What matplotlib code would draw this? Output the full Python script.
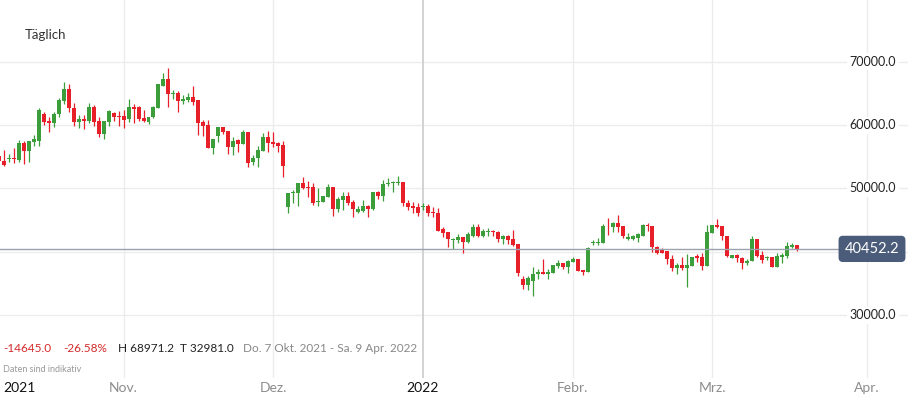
import matplotlib
matplotlib.use("Agg")
import matplotlib.pyplot as plt
import numpy as np

plt.rcParams['font.family'] = ['Lato', 'DejaVu Sans']

# daily candles, Oct 2021 - Mar 2022
opens = [55097.2, 54350, 54710, 54870, 54510, 57190, 55980, 57400, 57560, 61780,
         60670, 60400, 61730, 63880, 65730, 62680, 60560, 60990, 60670, 62840,
         60670, 58620, 60560, 61890, 61460, 61460, 60940, 62840, 62840, 61100,
         60560, 61260, 62680, 66250, 67310, 64890, 65150, 63880, 63990, 64510,
         63990, 60560, 60040, 56450, 58300, 59770, 59090, 56610, 57670, 56990,
         58980, 54240, 54780, 55980, 58190, 57400, 57150, 56880, 47120, 49240,
         49240, 50920, 50290, 50190, 47820, 47910, 48700, 50290, 46760, 48180,
         48860, 47910, 46240, 46490, 47230, 46710, 49400, 48860, 50660, 50820,
         50920, 51080, 47760, 47230, 47030, 47030, 47230, 46330, 46170, 43550,
         43170, 41860, 41860, 42290, 41490, 42540, 43960, 42540, 43120, 43330,
         43170, 42020, 42490, 42020, 41230, 35650, 34740, 35420, 36440, 36850,
         36440, 36590, 37750, 38170, 37640, 38430, 38850, 37120, 36850, 41340,
         41430, 41430, 44120, 43960, 44590, 44070, 41970, 41970, 42220, 42490,
         44230, 44070, 40700, 40280, 40120, 38850, 37480, 37910, 37380, 37800,
         39330, 39120, 37750, 43010, 44230, 44070, 42490, 38960, 39490, 38960,
         38170, 38540, 41970, 39490, 38960, 39120, 37640, 39220, 39330, 40800,
         41070]
highs = [56090, 56090, 55450, 56400, 57670, 57560, 57510, 58460, 62780, 62050,
         61350, 62100, 64260, 66790, 66520, 63470, 61620, 61620, 63570, 63200,
         61350, 60670, 62410, 62140, 62300, 62410, 64150, 63360, 63040, 62410,
         61350, 63040, 66520, 68310, 68971.2, 65570, 65420, 64780, 65150, 66200,
         63990, 60830, 60830, 57830, 59770, 59770, 59090, 58100, 57830, 59250,
         58980, 55300, 56720, 58820, 59140, 58980, 57400, 57560, 49340, 49760,
         50920, 51870, 51190, 50820, 50030, 48860, 50710, 50290, 48700, 49490,
         49400, 48180, 47230, 48180, 47390, 49400, 49600, 51340, 51610, 51230,
         51980, 51080, 48180, 47910, 47760, 47760, 47550, 47080, 46870, 43870,
         43170, 42250, 42760, 42290, 43080, 44340, 44340, 43550, 43800, 43440,
         43330, 42650, 42650, 43440, 41230, 36170, 36170, 37540, 37270, 38850,
         37270, 37910, 38700, 38270, 38700, 39220, 38850, 37120, 40750, 41860,
         42130, 44390, 45290, 44750, 45810, 44070, 42920, 42650, 42920, 44390,
         44590, 44070, 40910, 40590, 40120, 39490, 38270, 39120, 39650, 39220,
         39650, 39760, 44230, 44230, 45180, 44070, 42490, 39490, 39650, 39120,
         38810, 42490, 41970, 40170, 39380, 39220, 39760, 39850, 41590, 41430,
         41070]
lows = [54030, 53560, 54190, 54030, 54190, 53870, 54190, 56720, 56720, 60040,
        58980, 59770, 61350, 63360, 62050, 59930, 59610, 59410, 60310, 59930,
        58100, 57780, 59930, 60720, 59930, 59520, 60560, 60310, 60670, 60560,
        60150, 61100, 62680, 66250, 62840, 64100, 62140, 63310, 63680, 63200,
        58460, 58350, 56450, 55450, 57400, 58620, 55450, 55300, 55820, 56990,
        53450, 53720, 53450, 55980, 55820, 56510, 55820, 51770, 46170, 47760,
        47230, 49920, 48700, 47390, 47230, 47910, 48700, 45700, 46330, 46600,
        47390, 45450, 46130, 46330, 45540, 46600, 48340, 48020, 50400, 49490,
        50550, 47230, 46600, 46080, 45650, 46600, 45650, 45540, 43330, 42380,
        40700, 40480, 41340, 39760, 41340, 42380, 42380, 42380, 42540, 42540,
        41590, 41230, 41180, 40910, 36170, 34060, 33950, 32981.0, 35650, 36440,
        35650, 36590, 37380, 37270, 36690, 38330, 36880, 36320, 36850, 41070,
        41070, 41430, 42650, 43170, 43170, 42130, 41860, 41860, 41590, 42490,
        43330, 40010, 39600, 39760, 38060, 36880, 36480, 37120, 34380, 37800,
        38430, 37120, 37750, 42920, 43800, 41860, 39220, 38960, 38430, 37230,
        37910, 38540, 39120, 38270, 38700, 37640, 37640, 38270, 38960, 40550,
        40170]
closes = [54350, 53760, 54820, 54660, 57190, 55980, 57510, 57830, 62410, 60560,
          60400, 61780, 63990, 65730, 62680, 60560, 60940, 60720, 62840, 60560,
          58620, 60670, 62300, 61350, 61300, 60830, 62840, 62620, 60940, 60670,
          61350, 62840, 66520, 67310, 64890, 65150, 63880, 64200, 64510, 63720,
          60400, 59930, 56450, 57830, 59770, 58980, 56610, 57560, 56990, 58980,
          53980, 54870, 56090, 58190, 57240, 57040, 56720, 53480, 49340, 49490,
          50920, 50130, 50030, 47760, 48070, 48860, 50290, 46760, 48340, 48860,
          47760, 46760, 46760, 47230, 46710, 49400, 48860, 50710, 50920, 51080,
          51080, 47660, 47120, 46970, 46170, 47230, 46170, 46080, 43330, 43040,
          41940, 42020, 42290, 41590, 42760, 43960, 42540, 43330, 43330, 43170,
          42020, 42540, 41860, 41070, 36590, 34740, 35800, 36480, 36850, 36440,
          36850, 37910, 38270, 37640, 38590, 38850, 37000, 36850, 40670, 41590,
          41590, 44070, 44020, 44590, 43960, 42490, 42290, 42490, 42760, 44230,
          44070, 40700, 39850, 39760, 38810, 37480, 37910, 37380, 37910, 39120,
          38960, 37750, 43080, 44230, 43960, 42490, 39330, 39490, 38960, 38170,
          38590, 41970, 39330, 38700, 39120, 37640, 39330, 39490, 40910, 41070,
          40452.2]

price_ticks = [30000, 40000, 50000, 60000, 70000]
month_labels = ['Nov.', 'Dez.', '2022', 'Febr.', 'Mrz.', 'Apr.']
month_start = [25, 55, 85, 115, 143, 174]   # candle index of the 1st of each month
period_text = 'Do. 7 Okt. 2021 - Sa. 9 Apr. 2022'

GREEN = '#3b9e3b'
RED = '#e61f28'

o = np.array(opens)
h = np.array(highs)
l = np.array(lows)
c = np.array(closes)
idx = np.arange(len(o))
up = c >= o
colors = np.where(up, GREEN, RED)

fig = plt.figure(figsize=(9.08, 3.98), dpi=100)
ax = fig.add_axes([0, 20 / 398, 1, 378 / 398])
ax.set_xlim(0.24, 0.24 + 908 / 4.99)
ax.set_ylim(20040, 79800)
ax.axis('off')

# grid
for p in price_ticks:
    ax.axhline(p, color='#ececec', lw=1, zorder=0)
for m, lab in zip(month_start, month_labels):
    if lab.isdigit():
        ax.axvline(m, color='#d2d2d2', lw=1.4, zorder=0)
    else:
        ax.axvline(m, color='#ececec', lw=1, zorder=0)

# candles
ax.vlines(idx, l, h, colors=colors, lw=0.9, zorder=2)
body = np.maximum(np.abs(c - o), 110)
ax.bar(idx, body, bottom=np.minimum(o, c), width=0.8, color=colors, lw=0, zorder=3)

# last price line + tag
last = closes[-1]
ax.axhline(last, xmin=0, xmax=840 / 908, color='#9ba2ad', lw=1, zorder=4)
ax.text(872 / 908, last, f'{last:.1f}', transform=ax.get_yaxis_transform(),
        ha='center', va='center', color='white', fontsize=10.5, zorder=6,
        bbox=dict(boxstyle='round,pad=0.42,rounding_size=0.3', fc='#4b5b7a', ec='none'))

# price axis labels
for p in price_ticks:
    if abs(p - last) < 3000:
        continue
    ax.text(896 / 908, p, f'{p:.1f}', transform=ax.get_yaxis_transform(),
            ha='right', va='center', color='#222222', fontsize=9, zorder=5,
            bbox=dict(boxstyle='square,pad=0.2', fc='white', ec='none'))

# time axis labels
xt = ax.get_xaxis_transform()
ax.text(3 / 908, -10 / 378, '2021', transform=ax.transAxes, ha='left', va='center',
        color='#111111', fontsize=10)
for m, lab in zip(month_start, month_labels):
    col = '#111111' if lab.isdigit() else '#8c8c8c'
    ax.text(m, -10 / 378, lab, transform=xt, ha='center', va='center',
            color=col, fontsize=10, clip_on=False)

ax.text(25 / 908, 1 - 35 / 378, 'Täglich', transform=ax.transAxes,
        ha='left', va='center', color='#333333', fontsize=9.5)

# summary row
change = closes[-1] - opens[0]
pct = change / opens[0] * 100
yrow = 1 - 348 / 378
ax.text(3 / 908, yrow, f'{change:.1f}', transform=ax.transAxes, va='center',
        color='#d42a2a', fontsize=8.5)
ax.text(63 / 908, yrow, f'{pct:.2f}%', transform=ax.transAxes, va='center',
        color='#d42a2a', fontsize=8.5)
ax.text(118 / 908, yrow, f'H {max(highs):.1f}', transform=ax.transAxes, va='center',
        color='#222222', fontsize=8.5)
ax.text(180 / 908, yrow, f'T {min(lows):.1f}', transform=ax.transAxes, va='center',
        color='#222222', fontsize=8.5)
ax.text(243 / 908, yrow, period_text, transform=ax.transAxes, va='center',
        color='#888888', fontsize=8.5)
ax.text(3 / 908, 1 - 369 / 378, 'Daten sind indikativ', transform=ax.transAxes,
        va='center', color='#999999', fontsize=6.5)

fig.savefig('out.png', dpi=100)
